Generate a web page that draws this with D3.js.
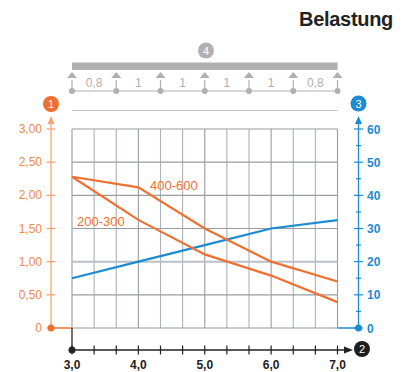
<!DOCTYPE html>
<html>
<head>
<meta charset="utf-8">
<script src="https://cdn.jsdelivr.net/npm/d3@7"></script>
<style>
  html, body { margin: 0; padding: 0; background: #fff; }
  svg { display: block; font-family: "Liberation Sans", Arial, sans-serif; }
</style>
</head>
<body>
<svg id="chart" width="406" height="372"></svg>
<script>
// Span length (m) on the x axis
const spans = [3.0, 4.0, 5.0, 6.0, 7.0];
// Deflection curves, left axis
const series400600 = [2.28, 2.12, 1.50, 1.00, 0.70];
const series200300 = [2.28, 1.63, 1.11, 0.79, 0.39];
// Load curve, right axis
const loadValues = [15, 20, 25, 30, 32.5];

const xTickLabels = ["3,0", "4,0", "5,0", "6,0", "7,0"];
const leftTicks = [0, 0.5, 1.0, 1.5, 2.0, 2.5, 3.0];
const leftTickLabels = ["0", "0,50", "1,00", "1,50", "2,00", "2,50", "3,00"];
const rightTicks = [0, 10, 20, 30, 40, 50, 60];
const spanLabels = ["0,8", "1", "1", "1", "1", "0,8"];

const ORANGE = "#f07030", ORANGE_LIGHT = "#f6a474", ORANGE_TEXT = "#f08a4a";
const BLUE = "#1b8bd3", GREY = "#b0b0b2";

const svg = d3.select("#chart");
const L = 72, R = 337.5, T = 129, B = 328;

const x = d3.scaleLinear().domain([3, 7]).range([L, R]);
const yL = d3.scaleLinear().domain([0, 3]).range([B, T]);
const yR = d3.scaleLinear().domain([0, 60]).range([B, T]);

// Title
svg.append("text").attr("x", 393).attr("y", 26).attr("text-anchor", "end")
  .attr("font-size", 20).attr("font-weight", "bold").attr("fill", "#222")
  .attr("letter-spacing", -0.3).text("Belastung");

// Continuous beam sketch: one support per span boundary
const supports = d3.range(spanLabels.length + 1).map(i => L + i * (R - L) / spanLabels.length);
svg.append("rect").attr("x", L).attr("y", 62.5).attr("width", R - L).attr("height", 7.5).attr("fill", GREY);
svg.append("line").attr("x1", L).attr("x2", R).attr("y1", 91).attr("y2", 91).attr("stroke", GREY).attr("stroke-width", 1.2);
supports.forEach(sx => {
  svg.append("path").attr("d", `M${sx},72 L${sx + 5},78 L${sx - 5},78 Z`).attr("fill", GREY);
  svg.append("line").attr("x1", sx).attr("x2", sx).attr("y1", 80).attr("y2", 91).attr("stroke", GREY).attr("stroke-width", 1.2);
  svg.append("circle").attr("cx", sx).attr("cy", 91).attr("r", 3).attr("fill", GREY);
});
spanLabels.forEach((t, i) => {
  svg.append("text").attr("x", (supports[i] + supports[i + 1]) / 2).attr("y", 87)
    .attr("text-anchor", "middle").attr("font-size", 12).attr("fill", GREY).text(t);
});
svg.append("line").attr("x1", L).attr("x2", R).attr("y1", 110.5).attr("y2", 110.5).attr("stroke", "#c4c4c6").attr("stroke-width", 1);

function badge(cx, cy, fill, label) {
  svg.append("circle").attr("cx", cx).attr("cy", cy).attr("r", 8).attr("fill", fill);
  svg.append("text").attr("x", cx).attr("y", cy + 4).attr("text-anchor", "middle")
    .attr("font-size", 11).attr("fill", "#fff").text(label);
}
badge(206, 50.5, GREY, "4");

// Grid
const g = svg.append("g");
const vLines = d3.range(13).map(i => 3 + i / 3);
vLines.forEach((v, i) => {
  g.append("line").attr("x1", x(v)).attr("x2", x(v)).attr("y1", T).attr("y2", B)
    .attr("stroke", i % 3 === 0 ? "#9a9c9f" : "#a6b2bd").attr("stroke-width", 1.1);
});
leftTicks.forEach(v => {
  const major = v === 1.0;
  g.append("line").attr("x1", L).attr("x2", R).attr("y1", yL(v)).attr("y2", yL(v))
    .attr("stroke", major ? "#b9c0c7" : "#9a9c9f").attr("stroke-width", major ? 2 : 1.1);
});

// Curves
const lineL = d3.line().x((d, i) => x(spans[i])).y(d => yL(d));
const lineR = d3.line().x((d, i) => x(spans[i])).y(d => yR(d));
svg.append("path").attr("d", lineR(loadValues)).attr("fill", "none").attr("stroke", BLUE).attr("stroke-width", 2.2);
svg.append("path").attr("d", lineL(series400600)).attr("fill", "none").attr("stroke", ORANGE).attr("stroke-width", 2.2);
svg.append("path").attr("d", lineL(series200300)).attr("fill", "none").attr("stroke", ORANGE).attr("stroke-width", 2.2);
svg.append("text").attr("x", 150).attr("y", 190).attr("font-size", 13).attr("fill", ORANGE).text("400-600");
svg.append("text").attr("x", 77).attr("y", 226).attr("font-size", 13).attr("fill", ORANGE).text("200-300");

// Left axis
const AXL = 51;
svg.append("line").attr("x1", AXL).attr("x2", AXL).attr("y1", B).attr("y2", 121).attr("stroke", ORANGE_LIGHT).attr("stroke-width", 1.3);
svg.append("path").attr("d", `M${AXL},116 L${AXL + 3.5},124 L${AXL - 3.5},124 Z`).attr("fill", ORANGE_LIGHT);
leftTicks.forEach((v, i) => {
  svg.append("line").attr("x1", AXL - 4.5).attr("x2", AXL + 4.5).attr("y1", yL(v)).attr("y2", yL(v)).attr("stroke", ORANGE_LIGHT).attr("stroke-width", 1.3);
  svg.append("text").attr("x", 42).attr("y", yL(v) + 4).attr("text-anchor", "end")
    .attr("font-size", 12).attr("fill", ORANGE_TEXT).text(leftTickLabels[i]);
});
svg.append("line").attr("x1", AXL).attr("x2", L).attr("y1", B).attr("y2", B).attr("stroke", ORANGE).attr("stroke-width", 1.5);
svg.append("circle").attr("cx", AXL).attr("cy", B).attr("r", 3.5).attr("fill", ORANGE);
badge(AXL, 104, ORANGE, "1");

// Right axis
const AXR = 358.5;
svg.append("line").attr("x1", AXR).attr("x2", AXR).attr("y1", B).attr("y2", 121).attr("stroke", BLUE).attr("stroke-width", 1.3);
svg.append("path").attr("d", `M${AXR},116 L${AXR + 3.5},124 L${AXR - 3.5},124 Z`).attr("fill", BLUE);
d3.range(0, 61, 5).forEach(v => {
  const major = v % 10 === 0;
  svg.append("line").attr("x1", AXR - (major ? 4.5 : 2.5)).attr("x2", AXR + (major ? 4.5 : 2.5))
    .attr("y1", yR(v)).attr("y2", yR(v)).attr("stroke", BLUE).attr("stroke-width", 1.2);
});
rightTicks.forEach(v => {
  svg.append("text").attr("x", 367).attr("y", yR(v) + 4.5)
    .attr("font-size", 12).attr("font-weight", "bold").attr("fill", BLUE).text(v);
});
svg.append("line").attr("x1", R).attr("x2", AXR).attr("y1", B).attr("y2", B).attr("stroke", BLUE).attr("stroke-width", 1.5);
svg.append("circle").attr("cx", AXR).attr("cy", B).attr("r", 3.5).attr("fill", BLUE);
badge(AXR, 103.5, BLUE, "3");

// Bottom axis
const AXB = 350;
svg.append("line").attr("x1", L).attr("x2", L).attr("y1", B).attr("y2", AXB).attr("stroke", "#222").attr("stroke-width", 1.3);
svg.append("line").attr("x1", L).attr("x2", 346).attr("y1", AXB).attr("y2", AXB).attr("stroke", "#222").attr("stroke-width", 1.3);
svg.append("path").attr("d", `M353,${AXB} L344,${AXB - 3.5} L344,${AXB + 3.5} Z`).attr("fill", "#222");
vLines.forEach(v => {
  svg.append("line").attr("x1", x(v)).attr("x2", x(v)).attr("y1", AXB - 4.5).attr("y2", AXB + 4.5).attr("stroke", "#222").attr("stroke-width", 1.2);
});
svg.append("circle").attr("cx", L).attr("cy", AXB).attr("r", 3.5).attr("fill", "#222");
spans.forEach((v, i) => {
  svg.append("text").attr("x", x(v)).attr("y", 369).attr("text-anchor", "middle")
    .attr("font-size", 12).attr("font-weight", "bold").attr("fill", "#222").text(xTickLabels[i]);
});
badge(362, 349, "#1e1e1e", "2");
</script>
</body>
</html>
